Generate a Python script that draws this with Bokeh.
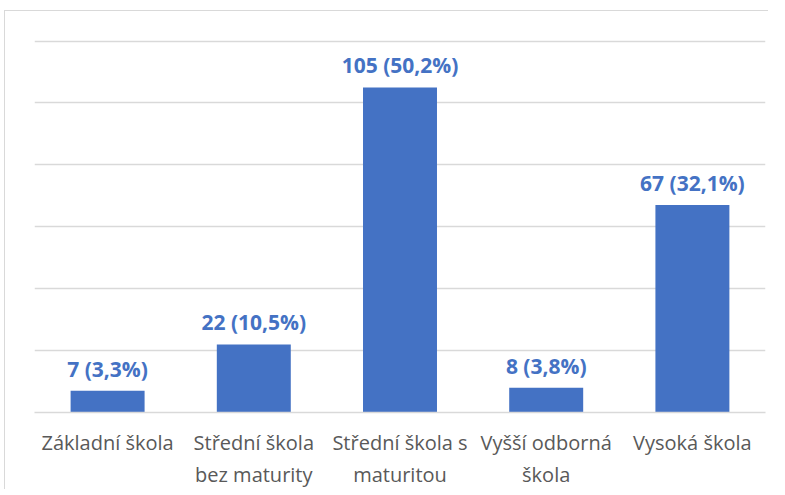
from bokeh.plotting import figure
from bokeh.models import ColumnDataSource, Range1d, FixedTicker, LabelSet
from bokeh.core.properties import value
from bokeh.embed import file_html
from bokeh.resources import INLINE

categories = ["Základní škola", "Střední škola\nbez maturity", "Střední škola s\nmaturitou",
              "Vyšší odborná\nškola", "Vysoká škola"]
counts = [7, 22, 105, 8, 67]
percents = ["3,3%", "10,5%", "50,2%", "3,8%", "32,1%"]
grid_ticks = [0, 20, 40, 60, 80, 100, 120]

labels = [f"{c} ({p})" for c, p in zip(counts, percents)]
src = ColumnDataSource(data=dict(cat=categories, val=counts, lab=labels))

p = figure(x_range=categories, y_range=Range1d(0, 120.5), width=764, height=479,
           output_backend="svg", toolbar_location=None,
           min_border_left=29, min_border_right=4, min_border_top=28, min_border_bottom=70)
p.styles = {"margin-left": "4px", "margin-top": "10px",
            "border-left": "1px solid #d9d9d9", "border-top": "1px solid #d9d9d9"}
p.outline_line_color = None
p.background_fill_color = "white"
p.border_fill_color = "white"

p.vbar(x="cat", top="val", width=0.506, source=src, fill_color="#4472C4", line_color=None)

lbl = LabelSet(x="cat", y="val", text="lab", source=src, text_align="center",
               text_baseline="bottom", y_offset=8, text_font=value("Open Sans"),
               text_font_style="bold", text_font_size="21px", text_color="#4472C4")
p.add_layout(lbl)

p.yaxis.visible = False
p.ygrid.ticker = FixedTicker(ticks=grid_ticks)
p.ygrid.grid_line_color = "#d9d9d9"
p.ygrid.grid_line_width = 1.5
p.xgrid.grid_line_color = None

p.xaxis.axis_line_color = "#d9d9d9"
p.xaxis.axis_line_width = 1.5
p.xaxis.major_tick_line_color = None
p.xaxis.minor_tick_line_color = None
p.xaxis.major_label_text_font = "Open Sans"
p.xaxis.major_label_text_font_size = "20px"
p.xaxis.major_label_text_color = "#595959"
p.xaxis.major_label_standoff = 10
p.x_range.range_padding = 0

open("out.html", "w").write(file_html(p, INLINE))
